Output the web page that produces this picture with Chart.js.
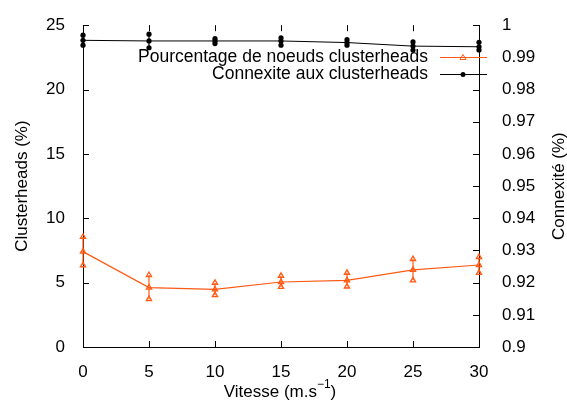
<!DOCTYPE html>
<html>
<head>
<meta charset="utf-8">
<script src="https://cdn.jsdelivr.net/npm/chart.js@4"></script>
<style>
  html, body { margin: 0; padding: 0; background: #fff; }
  #wrap { width: 567px; height: 403px; }
</style>
</head>
<body>
<div id="wrap"><canvas id="c" width="567" height="403"></canvas></div>
<script>
// ===== data =====
const vitesse = [0, 5, 10, 15, 20, 25, 30];
const chMean = [7.41, 4.62, 4.47, 5.05, 5.18, 5.99, 6.37];
const chLow  = [6.35, 3.73, 4.03, 4.67, 4.70, 5.18, 5.76];
const chHigh = [8.55, 5.59, 4.98, 5.53, 5.76, 6.83, 6.98];
const cxMean = [0.9953, 0.9951, 0.9951, 0.9951, 0.9946, 0.9935, 0.9933];
const cxLow  = [0.9938, 0.9930, 0.9943, 0.9938, 0.9938, 0.9923, 0.9923];
const cxHigh = [0.9969, 0.9972, 0.9958, 0.9961, 0.9955, 0.9948, 0.9947];
const yTicks = [0, 5, 10, 15, 20, 25];
const y2Ticks = [0.9, 0.91, 0.92, 0.93, 0.94, 0.95, 0.96, 0.97, 0.98, 0.99, 1];

const FONT = '"Liberation Sans", Arial, sans-serif';
const ORANGE = '#ff5a14';
const BLACK = '#000000';

const pts = (xs, ys) => xs.map((x, i) => ({ x, y: ys[i] }));

// error bars, inward ticks, titles and the gnuplot-like key
const decor = {
    id: 'decor',
    beforeDatasetsDraw(chart) {
        const { ctx, scales: { x, y, y2 } } = chart;
        ctx.save();
        ctx.lineWidth = 1.2;
        ctx.strokeStyle = ORANGE;
        vitesse.forEach((v, i) => {
            const px = x.getPixelForValue(v);
            ctx.beginPath();
            ctx.moveTo(px, y.getPixelForValue(chLow[i]));
            ctx.lineTo(px, y.getPixelForValue(chHigh[i]));
            ctx.stroke();
        });
        ctx.strokeStyle = BLACK;
        vitesse.forEach((v, i) => {
            const px = x.getPixelForValue(v);
            ctx.beginPath();
            ctx.moveTo(px, y2.getPixelForValue(cxLow[i]));
            ctx.lineTo(px, y2.getPixelForValue(cxHigh[i]));
            ctx.stroke();
        });
        ctx.restore();
    },
    afterDraw(chart) {
        const { ctx, chartArea: a, scales: { x, y, y2 } } = chart;
        ctx.save();
        ctx.strokeStyle = '#000';
        ctx.lineWidth = 1;
        ctx.beginPath();
        vitesse.forEach(v => {
            const px = Math.round(x.getPixelForValue(v)) + 0.5;
            ctx.moveTo(px, a.bottom); ctx.lineTo(px, a.bottom - 6);
            ctx.moveTo(px, a.top); ctx.lineTo(px, a.top + 6);
        });
        yTicks.forEach(v => {
            const py = Math.round(y.getPixelForValue(v)) + 0.5;
            ctx.moveTo(a.left, py); ctx.lineTo(a.left + 6, py);
        });
        y2Ticks.forEach(v => {
            const py = Math.round(y2.getPixelForValue(v)) + 0.5;
            ctx.moveTo(a.right, py); ctx.lineTo(a.right - 6, py);
        });
        ctx.stroke();

        // axis titles
        ctx.fillStyle = '#000';
        ctx.font = '17px ' + FONT;
        ctx.textAlign = 'center';
        ctx.textBaseline = 'middle';
        ctx.save();
        ctx.translate(22, (a.top + a.bottom) / 2);
        ctx.rotate(-Math.PI / 2);
        ctx.fillText('Clusterheads (%)', 0, 0);
        ctx.restore();
        ctx.save();
        ctx.translate(559, (a.top + a.bottom) / 2);
        ctx.rotate(-Math.PI / 2);
        ctx.fillText('Connexité (%)', 0, 0);
        ctx.restore();

        const main = 'Vitesse (m.s';
        const sup = '−1';
        const close = ')';
        ctx.font = '17px ' + FONT;
        const w1 = ctx.measureText(main).width, w3 = ctx.measureText(close).width;
        ctx.font = '12px ' + FONT;
        const w2 = ctx.measureText(sup).width;
        let sx = 280 - (w1 + w2 + w3) / 2;
        const by = 392;
        ctx.textAlign = 'left';
        ctx.font = '17px ' + FONT;
        ctx.fillText(main, sx, by);
        ctx.font = '12px ' + FONT;
        ctx.fillText(sup, sx + w1, by - 7);
        ctx.font = '17px ' + FONT;
        ctx.fillText(close, sx + w1 + w2, by);

        // key
        const keys = [
            { text: 'Pourcentage de noeuds clusterheads', color: ORANGE, y: 57.5, style: 'triangle' },
            { text: 'Connexite aux clusterheads', color: BLACK, y: 74.5, style: 'circle' }
        ];
        keys.forEach(k => {
            ctx.font = '17.5px ' + FONT;
            ctx.fillStyle = '#000';
            ctx.textAlign = 'right';
            ctx.textBaseline = 'middle';
            ctx.fillText(k.text, 428, k.y);
            ctx.strokeStyle = k.color;
            ctx.lineWidth = 1;
            ctx.beginPath();
            ctx.moveTo(440, k.y); ctx.lineTo(487, k.y);
            ctx.stroke();
            if (k.style === 'triangle') {
                ctx.beginPath();
                ctx.moveTo(463, k.y - 3); ctx.lineTo(466, k.y + 2); ctx.lineTo(460, k.y + 2);
                ctx.closePath();
                ctx.stroke();
            } else {
                ctx.fillStyle = k.color;
                ctx.beginPath();
                ctx.arc(463, k.y, 2.5, 0, Math.PI * 2);
                ctx.fill();
            }
        });
        ctx.restore();
    }
};

const tickFont = { family: FONT, size: 17 };

new Chart(document.getElementById('c').getContext('2d'), {
    type: 'scatter',
    data: {
        datasets: [
            { data: pts(vitesse, chMean), yAxisID: 'y', showLine: true, borderColor: ORANGE, borderWidth: 1.2,
              pointStyle: 'triangle', pointRadius: 3, pointBorderWidth: 1.3, pointBorderColor: ORANGE,
              pointBackgroundColor: 'rgba(255,255,255,0)', clip: false },
            { data: [...pts(vitesse, chLow), ...pts(vitesse, chHigh)], yAxisID: 'y', showLine: false,
              pointStyle: 'triangle', pointRadius: 3, pointBorderWidth: 1.3, pointBorderColor: ORANGE,
              pointBackgroundColor: 'rgba(255,255,255,0)', clip: false },
            { data: pts(vitesse, cxMean), yAxisID: 'y2', showLine: true, borderColor: BLACK, borderWidth: 1,
              pointStyle: 'circle', pointRadius: 2.6, pointBorderWidth: 0, pointBackgroundColor: BLACK, clip: false },
            { data: [...pts(vitesse, cxLow), ...pts(vitesse, cxHigh)], yAxisID: 'y2', showLine: false,
              pointStyle: 'circle', pointRadius: 2.6, pointBorderWidth: 0, pointBackgroundColor: BLACK, clip: false }
        ]
    },
    options: {
        responsive: false, animation: false,
        layout: { padding: { top: 18, left: 0, right: 0, bottom: 0 } },
        scales: {
            x: {
                type: 'linear', min: 0, max: 30,
                afterFit: s => { s.height = 56; },
                afterBuildTicks: s => { s.ticks = vitesse.map(v => ({ value: v })); },
                grid: { display: false }, border: { display: true, color: '#000', width: 1 },
                ticks: { font: tickFont, color: '#000', padding: 7, maxRotation: 0 }
            },
            y: {
                position: 'left', min: 0, max: 25,
                afterFit: s => { s.width = 83; },
                afterBuildTicks: s => { s.ticks = yTicks.map(v => ({ value: v })); },
                grid: { display: false }, border: { display: true, color: '#000', width: 1 },
                ticks: { font: tickFont, color: '#000', padding: 10 }
            },
            y2: {
                position: 'right', min: 0.9, max: 1,
                afterFit: s => { s.width = 88; },
                afterBuildTicks: s => { s.ticks = y2Ticks.map(v => ({ value: v })); },
                grid: { display: false }, border: { display: true, color: '#000', width: 1 },
                ticks: { font: tickFont, color: '#000', padding: 15, callback: v => String(Math.round(v * 100) / 100) }
            }
        },
        plugins: { legend: { display: false }, tooltip: { enabled: false } }
    },
    plugins: [decor]
});
</script>
</body>
</html>
